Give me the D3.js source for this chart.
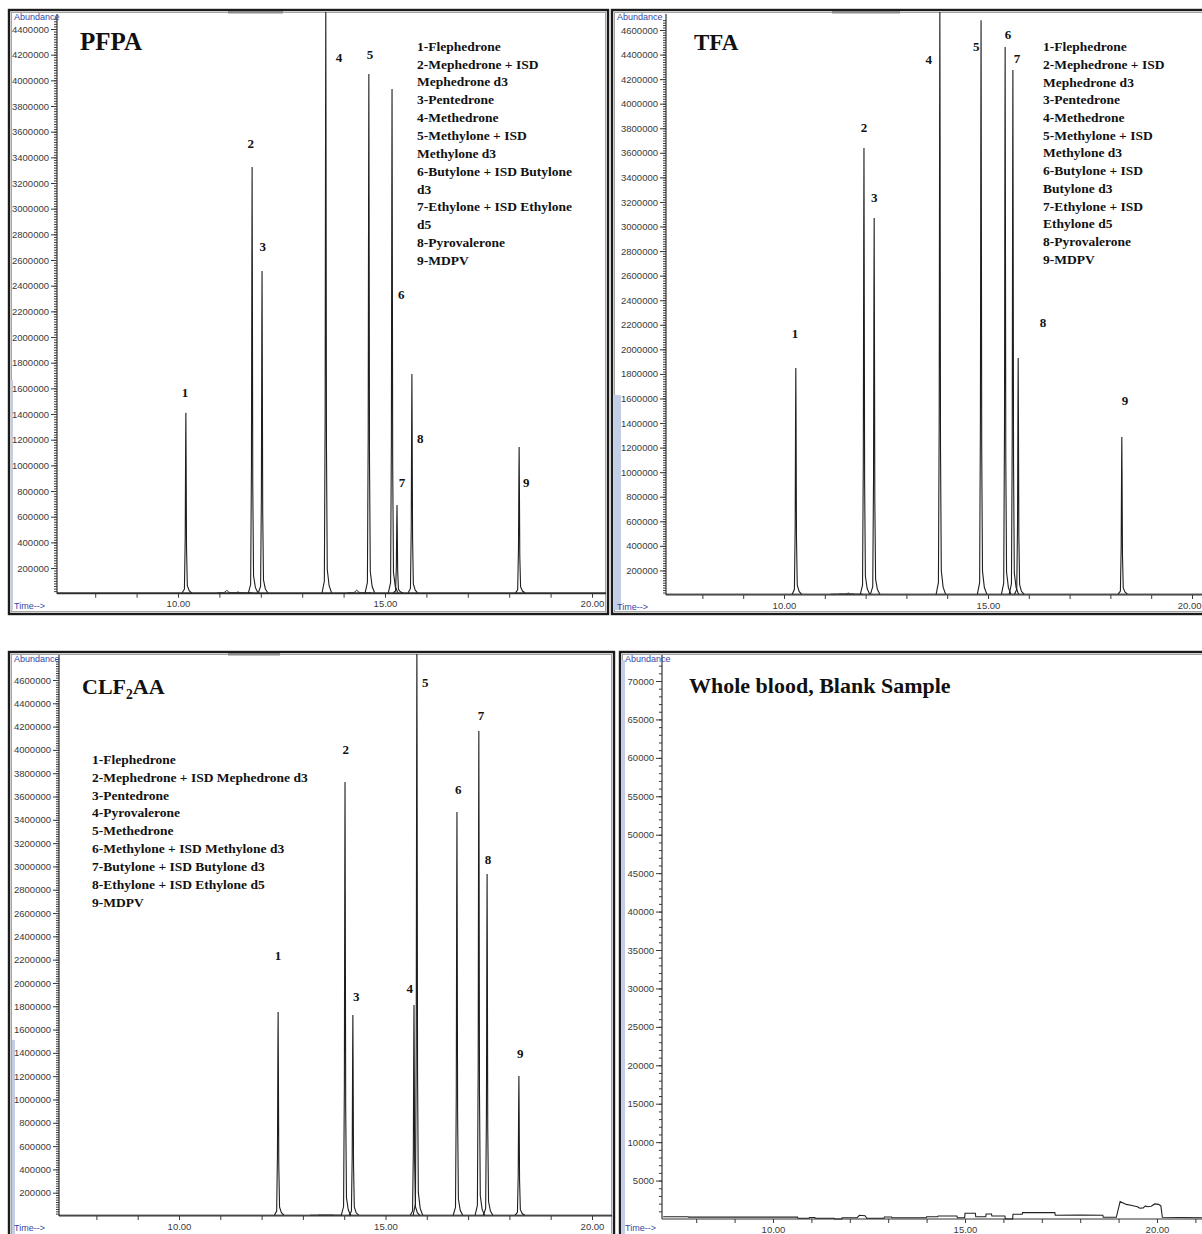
<!DOCTYPE html>
<html>
<head>
<meta charset="utf-8">
<script src="https://cdn.jsdelivr.net/npm/d3@7"></script>
<style>
  body { margin: 0; background: #fff; }
  svg { display: block; }
</style>
</head>
<body>
<div id="chart"></div>
<script>
// ---- values ----

// PFPA
var pfpaTime      = [10.19, 11.79, 12.03, 13.57, 14.61, 15.17, 15.29, 15.65, 18.24];
var pfpaAbundance = [1410000, 3324000, 2514000, 4600000, 4049000, 3932000, 691000, 1712000, 1143000];
var pfpaLabelTime      = [10.17, 11.76, 12.05, 13.89, 14.64, 15.39, 15.41, 15.85, 18.41];
var pfpaLabelAbundance = [1571000, 3511000, 2708000, 4181000, 4205000, 2328000, 863000, 1213000, 863000];
var pfpaSmallTime      = [11.18, 11.45, 14.32];
var pfpaSmallAbundance = [28000, 14000, 30000];
var pfpaLegend = ["1-Flephedrone", "2-Mephedrone + ISD", "Mephedrone d3", "3-Pentedrone", "4-Methedrone",
                  "5-Methylone + ISD", "Methylone d3", "6-Butylone + ISD Butylone", "d3",
                  "7-Ethylone + ISD Ethylone", "d5", "8-Pyrovalerone", "9-MDPV"];

// TFA
var tfaTime      = [10.29, 11.96, 12.21, 13.82, 14.83, 15.42, 15.61, 15.74, 18.28];
var tfaAbundance = [1848000, 3639000, 3069000, 4800000, 4680000, 4461000, 4274000, 1929000, 1286000];
var tfaLabelTime      = [10.27, 11.96, 12.21, 13.55, 14.71, 15.49, 15.71, 16.35, 18.36];
var tfaLabelAbundance = [2133000, 3810000, 3240000, 4363000, 4469000, 4567000, 4371000, 2222000, 1587000];
var tfaSmallTime      = [11.37, 11.58];
var tfaSmallAbundance = [9000, 16000];
var tfaLegend = ["1-Flephedrone", "2-Mephedrone + ISD", "Mephedrone d3", "3-Pentedrone", "4-Methedrone",
                 "5-Methylone + ISD", "Methylone d3", "6-Butylone + ISD", "Butylone d3",
                 "7-Ethylone + ISD", "Ethylone d5", "8-Pyrovalerone", "9-MDPV"];

// CLF2AA
var clfTime      = [12.40, 14.02, 14.21, 15.69, 15.76, 16.73, 17.26, 17.46, 18.23];
var clfAbundance = [1751000, 3725000, 1725000, 1811000, 4900000, 3468000, 4163000, 2936000, 1202000];
var clfLabelTime      = [12.40, 14.04, 14.29, 15.59, 15.96, 16.76, 17.31, 17.48, 18.26];
var clfLabelAbundance = [2240000, 4000000, 1880000, 1957000, 4575000, 3657000, 4300000, 3056000, 1399000];
var clfSmallTime      = [13.4, 13.6];
var clfSmallAbundance = [8000, 8000];
var clfLegend = ["1-Flephedrone", "2-Mephedrone + ISD Mephedrone d3", "3-Pentedrone", "4-Pyrovalerone",
                 "5-Methedrone", "6-Methylone + ISD Methylone d3", "7-Butylone + ISD Butylone d3",
                 "8-Ethylone + ISD Ethylone d5", "9-MDPV"];

// Whole blood blank
var blankTime = [7.14, 7.79, 7.80, 10.64, 10.65, 10.94, 10.95, 11.09, 11.10, 11.59, 11.60, 11.79, 11.80,
                 12.19, 12.25, 12.40, 12.44, 12.89, 12.90, 13.09, 13.10, 13.99, 14.00, 14.29, 14.30, 14.79,
                 14.80, 14.99, 15.00, 15.27, 15.28, 15.54, 15.55, 15.69, 15.70, 16.04, 16.05, 16.24, 16.25,
                 16.49, 16.50, 17.34, 17.35, 18.00, 18.59, 18.60, 18.94, 19.04, 19.20, 19.35, 19.49, 19.55,
                 19.64, 19.70, 19.74, 19.85, 19.94, 20.04, 20.10, 20.14, 20.60, 21.17];
var blankAbundance = [300, 300, 250, 250, 90, 90, 200, 200, 90, 90, 0, 0, 170,
                      170, 480, 420, 90, 90, 260, 260, 170, 170, 300, 300, 390, 390,
                      170, 170, 740, 740, 300, 300, 650, 650, 390, 390, 0, 0, 610,
                      610, 830, 830, 480, 520, 480, 220, 220, 2260, 1900, 1750, 1600, 1400,
                      1450, 1700, 1600, 1650, 1960, 1900, 1700, 220, 200, 170];

// ---- layout of the 2x2 sheet ----
var W = 1202, H = 1234;
var panels = [
  { id: "pfpa", frame: [9, 10, 599, 604], axisX: 57, right: 606, top: 14, base: 593.7,
    x10: 178, x20: 592, yRefVal: 4400000, yRefPx: 29, major: 200000, minor: 20000,
    strip: [11, 380, 2, 230], tab: [228, 55],
    title: "PFPA", titleX: 80, titleY: 50, titleSize: 25,
    legend: pfpaLegend, legendX: 417, legendY: 46, legendStep: 17.85,
    time: pfpaTime, abund: pfpaAbundance, lt: pfpaLabelTime, la: pfpaLabelAbundance,
    st: pfpaSmallTime, sa: pfpaSmallAbundance, baseVal: 7000 },
  { id: "tfa", frame: [612, 10, 620, 604], axisX: 666, right: 1210, top: 14, base: 595,
    x10: 784, x20: 1192, yRefVal: 4600000, yRefPx: 30, major: 200000, minor: 20000,
    strip: [614, 395, 7, 215], tab: [832, 68],
    title: "TFA", titleX: 694, titleY: 50, titleSize: 23,
    legend: tfaLegend, legendX: 1043, legendY: 46.5, legendStep: 17.7,
    time: tfaTime, abund: tfaAbundance, lt: tfaLabelTime, la: tfaLabelAbundance,
    st: tfaSmallTime, sa: tfaSmallAbundance, baseVal: 7000 },
  { id: "clf", frame: [9, 652, 605, 620], axisX: 59, right: 612, top: 655, base: 1216,
    x10: 179, x20: 592, yRefVal: 4600000, yRefPx: 680, major: 200000, minor: 20000,
    strip: [12, 1040, 3, 200], tab: [228, 52],
    title: "CLF", titleSub: "2", titleRest: "AA", titleX: 82, titleY: 694, titleSize: 22,
    legend: clfLegend, legendX: 92, legendY: 759, legendStep: 17.9,
    time: clfTime, abund: clfAbundance, lt: clfLabelTime, la: clfLabelAbundance,
    st: clfSmallTime, sa: clfSmallAbundance, baseVal: 7000 },
  { id: "blank", frame: [620, 652, 620, 620], axisX: 662, right: 1210, top: 655, base: 1219,
    x10: 773, x20: 1157, yRefVal: 70000, yRefPx: 681, major: 5000, minor: 1000,
    strip: [622, 660, 3, 580], tab: null,
    title: "Whole blood, Blank Sample", titleX: 689, titleY: 693, titleSize: 22,
    legend: [], trace: { t: blankTime, v: blankAbundance } }
];

var sans = "'Liberation Sans', Arial, sans-serif";
var serif = "'Liberation Serif', 'Times New Roman', serif";

var svg = d3.select("#chart").append("svg")
    .attr("width", W)
    .attr("height", H);

svg.append("rect").attr("width", W).attr("height", H).attr("fill", "#fff");

panels.forEach(drawPanel);

function drawPanel(p) {
    var g = svg.append("g").attr("class", "panel-" + p.id);
    var f = p.frame;

    // window frame: dark outer line + grey inner line
    g.append("rect")
        .attr("x", f[0]).attr("y", f[1]).attr("width", f[2]).attr("height", f[3])
        .attr("fill", "#fff").attr("stroke", "#1b1b1b").attr("stroke-width", 2.4);
    g.append("rect")
        .attr("x", f[0] + 2.5).attr("y", f[1] + 2.5).attr("width", f[2] - 5).attr("height", f[3] - 5)
        .attr("fill", "none").attr("stroke", "#a4a4a4").attr("stroke-width", 1);
    g.append("rect")
        .attr("x", p.strip[0]).attr("y", p.strip[1]).attr("width", p.strip[2]).attr("height", p.strip[3])
        .attr("fill", "#c4cde6");
    if (p.tab) {
        g.append("rect")
            .attr("x", p.tab[0]).attr("y", f[1] + 1).attr("width", p.tab[1]).attr("height", 2.5)
            .attr("fill", "#8a8a8a");
    }

    var x = d3.scaleLinear().domain([10, 20]).range([p.x10, p.x20]);
    var y = d3.scaleLinear().domain([0, p.yRefVal]).range([p.base, p.yRefPx]);
    var tStart = x.invert(p.axisX), tEnd = x.invert(p.right);
    var vTop = y.invert(p.top + 4);

    g.append("clipPath").attr("id", "clip-" + p.id)
      .append("rect")
        .attr("x", p.axisX).attr("y", f[1] + 2)
        .attr("width", p.right - p.axisX).attr("height", p.base - f[1]);

    // y axis: minor ticks, then labelled major ticks
    var yMinor = g.append("g")
        .attr("transform", "translate(" + p.axisX + ",0)")
        .call(d3.axisLeft(y).tickValues(d3.range(p.minor, vTop, p.minor)).tickSize(3).tickFormat(""));
    yMinor.select(".domain").remove();

    var yMajor = g.append("g")
        .attr("transform", "translate(" + p.axisX + ",0)")
        .call(d3.axisLeft(y).tickValues(d3.range(p.major, vTop, p.major))
              .tickSize(6).tickPadding(2).tickFormat(d3.format("d")));
    yMajor.select(".domain").remove();
    yMajor.selectAll("text").attr("font-family", sans).attr("font-size", 9.5).attr("fill", "#3a3a3a");

    g.selectAll(".tick line").attr("stroke", "#3a3a3a");

    // x axis, a tick every minute, labels every 5
    var xAxis = g.append("g")
        .attr("transform", "translate(0," + p.base + ")")
        .call(d3.axisBottom(x).tickValues(d3.range(Math.ceil(tStart), tEnd, 1))
              .tickSize(4).tickPadding(3)
              .tickFormat(function (d) { return d % 5 === 0 ? d.toFixed(2) : ""; }));
    xAxis.select(".domain").remove();
    xAxis.selectAll("line").attr("stroke", "#3a3a3a");
    xAxis.selectAll("text").attr("font-family", sans).attr("font-size", 9.5).attr("fill", "#3a3a3a");
    // keep a label that would run past the sheet edge inside it
    xAxis.selectAll(".tick").each(function (d) {
        if (x(d) + 14 > W) {
            d3.select(this).select("text").attr("text-anchor", "end").attr("x", W - 1 - x(d));
        }
    });

    // axis lines
    g.append("line")
        .attr("x1", p.axisX).attr("x2", p.axisX).attr("y1", p.top).attr("y2", p.base)
        .attr("stroke", "#333").attr("stroke-width", 1.2);
    g.append("line")
        .attr("x1", p.axisX).attr("x2", p.right).attr("y1", p.base).attr("y2", p.base)
        .attr("stroke", "#333").attr("stroke-width", 1.2);

    g.append("text")
        .attr("x", f[0] + 5).attr("y", f[1] + 10)
        .attr("font-family", sans).attr("font-size", 9).attr("fill", "#3547a8")
        .text("Abundance");
    g.append("text")
        .attr("x", f[0] + 5).attr("y", Math.min(p.base + 15, H - 3))
        .attr("font-family", sans).attr("font-size", 9).attr("fill", "#3547a8")
        .text("Time-->");

    // chromatogram trace
    var line = d3.line()
        .x(function (d) { return x(d[0]); })
        .y(function (d) { return y(d[1]); });
    var plot = g.append("g").attr("clip-path", "url(#clip-" + p.id + ")");

    if (p.trace) {
        var pts = p.trace.t.map(function (t, i) { return [t, p.trace.v[i]]; });
        plot.append("path").attr("d", line(pts))
            .attr("fill", "none").attr("stroke", "#222").attr("stroke-width", 1.1);
    } else {
        plot.append("path").attr("d", line([[tStart, p.baseVal], [tEnd, p.baseVal]]))
            .attr("fill", "none").attr("stroke", "#222").attr("stroke-width", 1);

        // narrow peak drawn from its retention time and apex abundance
        var shape = [[-0.09, 0], [-0.035, 0.02], [-0.016, 0.3], [-0.006, 0.8], [0, 1],
                     [0.006, 0.75], [0.016, 0.25], [0.035, 0.04], [0.08, 0.012], [0.14, 0]];
        var peakPath = function (t, h, widen) {
            return line(shape.map(function (s) {
                return [t + s[0] * widen, p.baseVal + (h - p.baseVal) * s[1]];
            }));
        };
        p.st.forEach(function (t, i) {
            plot.append("path").attr("d", peakPath(t, p.sa[i], 2.5))
                .attr("fill", "none").attr("stroke", "#333").attr("stroke-width", 1);
        });
        p.time.forEach(function (t, i) {
            plot.append("path").attr("d", peakPath(t, p.abund[i], 1))
                .attr("fill", "none").attr("stroke", "#1e1e1e").attr("stroke-width", 1.1);
        });

        // peak numbers
        g.selectAll(".peak-label-" + p.id)
            .data(p.lt)
            .enter()
            .append("text")
            .attr("x", function (d) { return x(d); })
            .attr("y", function (d, i) { return y(p.la[i]); })
            .attr("dy", "0.35em")
            .attr("text-anchor", "middle")
            .attr("font-family", serif).attr("font-weight", "bold").attr("font-size", 13)
            .attr("fill", "#111")
            .text(function (d, i) { return i + 1; });
    }

    // title
    var title = g.append("text")
        .attr("x", p.titleX).attr("y", p.titleY)
        .attr("font-family", serif).attr("font-weight", "bold").attr("font-size", p.titleSize)
        .attr("fill", "#111")
        .text(p.title);
    if (p.titleSub) {
        title.append("tspan").attr("font-size", p.titleSize * 0.62).attr("dy", 5).text(p.titleSub);
        title.append("tspan").attr("dy", -5).text(p.titleRest);
    }

    // compound legend
    g.selectAll(".legend-" + p.id)
        .data(p.legend)
        .enter()
        .append("text")
        .attr("x", p.legendX)
        .attr("y", function (d, i) { return p.legendY + i * p.legendStep; })
        .attr("dy", "0.35em")
        .attr("font-family", serif).attr("font-weight", "bold").attr("font-size", 13.5)
        .attr("fill", "#111")
        .text(function (d) { return d; });
}
</script>
</body>
</html>
